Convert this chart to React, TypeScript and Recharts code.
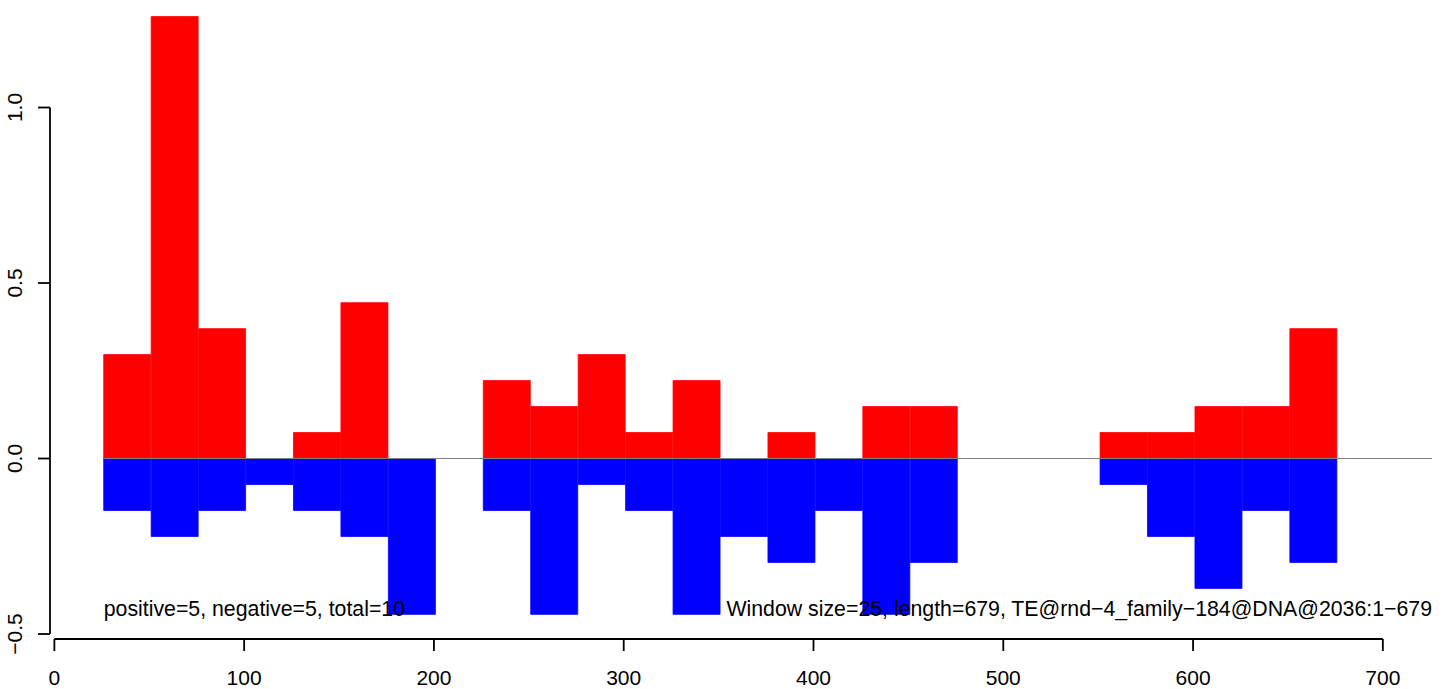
import { Bar, ComposedChart, ReferenceDot, ReferenceLine, XAxis, YAxis } from "recharts";

const FONT = "'Liberation Sans', Arial, sans-serif";

// window starts (size 25) along the element
const WINDOW_STARTS = [
  26, 51, 76, 101, 126, 151, 176, 201, 226, 251, 276, 301, 326, 351, 376, 401, 426, 451, 476, 501,
  526, 551, 576, 601, 626, 651,
];
const WINDOW_SIZE = 25;

const POSITIVE = [
  0.296, 1.259, 0.37, 0, 0.074, 0.444, 0, 0, 0.222, 0.148, 0.296, 0.074, 0.222, 0, 0.074, 0, 0.148,
  0.148, 0, 0, 0, 0.074, 0.074, 0.148, 0.148, 0.37,
];
const NEGATIVE = [
  -0.148, -0.222, -0.148, -0.074, -0.148, -0.222, -0.444, 0, -0.148, -0.444, -0.074, -0.148, -0.444,
  -0.222, -0.296, -0.148, -0.444, -0.296, 0, 0, 0, -0.074, -0.222, -0.37, -0.148, -0.296,
];

const X_TICKS = [0, 100, 200, 300, 400, 500, 600, 700];
const Y_TICKS = [-0.5, 0, 0.5, 1];
const X_DOMAIN: [number, number] = [-2.3, 725.9];
const Y_DOMAIN: [number, number] = [-0.5142, 1.3063];

const NOTE_LEFT = "positive=5, negative=5, total=10";
const NOTE_RIGHT = "Window size=25, length=679, TE@rnd\u22124_family\u2212184@DNA@2036:1\u2212679";
const NOTE_Y = -0.4274;
const NOTE_SIZE = 21.3;

const data = WINDOW_STARTS.map((start, i) => ({
  mid: start + WINDOW_SIZE / 2,
  pos: POSITIVE[i],
  neg: NEGATIVE[i],
}));

const fmtY = (v: number) => v.toFixed(1).replace("-", "\u2212");

function YTick({ x, y, payload }: any) {
  return (
    <text
      x={x}
      y={y}
      transform={`rotate(-90, ${x}, ${y})`}
      textAnchor="middle"
      fontSize={21}
      fontFamily={FONT}
      fill="#000"
    >
      {fmtY(payload.value)}
    </text>
  );
}

export default function App() {
  return (
    <div style={{ position: "absolute", left: 0, top: 0, background: "#fff" }}>
      <ComposedChart
        width={1444}
        height={689}
        data={data}
        margin={{ top: 0, right: 12, bottom: 0, left: 0 }}
        stackOffset="sign"
        barCategoryGap={0}
        barGap={0}
      >
        <XAxis
          type="number"
          dataKey="mid"
          domain={X_DOMAIN}
          ticks={X_TICKS}
          allowDataOverflow
          interval={0}
          axisLine={false}
          tickSize={12}
          tickMargin={19}
          tickLine={{ stroke: "#000", strokeWidth: 1.8 }}
          tick={{ fill: "#000", fontSize: 21, fontFamily: FONT }}
          height={50}
        />
        <YAxis
          type="number"
          domain={Y_DOMAIN}
          ticks={Y_TICKS}
          allowDataOverflow
          interval={0}
          axisLine={false}
          tickSize={12}
          tickMargin={16}
          tickLine={{ stroke: "#000", strokeWidth: 1.8 }}
          tick={<YTick />}
          width={50}
        />
        <ReferenceLine
          segment={[
            { x: WINDOW_STARTS[0], y: 0 },
            { x: X_DOMAIN[1], y: 0 },
          ]}
          stroke="#808080"
          strokeWidth={1}
          ifOverflow="visible"
        />
        <Bar dataKey="pos" stackId="s" fill="#ff0000" stroke="#ff0000" strokeWidth={0.8} isAnimationActive={false} />
        <Bar dataKey="neg" stackId="s" fill="#0000ff" stroke="#0000ff" strokeWidth={0.8} isAnimationActive={false} />
        <ReferenceLine
          segment={[
            { x: X_TICKS[0], y: Y_DOMAIN[0] },
            { x: X_TICKS[X_TICKS.length - 1], y: Y_DOMAIN[0] },
          ]}
          stroke="#000"
          strokeWidth={1.8}
          ifOverflow="visible"
        />
        <ReferenceLine
          segment={[
            { x: X_DOMAIN[0], y: Y_TICKS[0] },
            { x: X_DOMAIN[0], y: Y_TICKS[Y_TICKS.length - 1] },
          ]}
          stroke="#000"
          strokeWidth={1.8}
          ifOverflow="visible"
        />
        <ReferenceDot
          x={WINDOW_STARTS[0]}
          y={NOTE_Y}
          r={1}
          fill="none"
          stroke="none"
          ifOverflow="visible"
          label={{ value: NOTE_LEFT, position: "right", offset: -1, fill: "#000", fontSize: NOTE_SIZE, fontFamily: FONT }}
        />
        <ReferenceDot
          x={X_DOMAIN[1]}
          y={NOTE_Y}
          r={1}
          fill="none"
          stroke="none"
          ifOverflow="visible"
          label={{ value: NOTE_RIGHT, position: "left", offset: -1, fill: "#000", fontSize: NOTE_SIZE, fontFamily: FONT }}
        />
      </ComposedChart>
    </div>
  );
}
